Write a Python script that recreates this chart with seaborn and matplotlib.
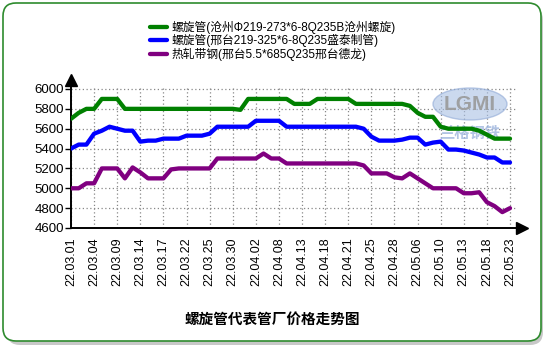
import numpy as np
import pandas as pd
import matplotlib
matplotlib.use("Agg")
import matplotlib.pyplot as plt
import seaborn as sns
from matplotlib.patches import FancyBboxPatch, Ellipse
from matplotlib.transforms import IdentityTransform

# ---------------- data ----------------
tick_labels = ['22.03.01', '22.03.04', '22.03.09', '22.03.14', '22.03.17',
               '22.03.22', '22.03.25', '22.03.30', '22.04.02', '22.04.08',
               '22.04.13', '22.04.18', '22.04.21', '22.04.25', '22.04.28',
               '22.05.06', '22.05.10', '22.05.13', '22.05.18', '22.05.23']

series_names = ['螺旋管(沧州Φ219-273*6-8Q235B沧州螺旋)',
                '螺旋管(邢台219-325*6-8Q235盛泰制管)',
                '热轧带钢(邢台5.5*685Q235邢台德龙)']

green_vals = [5700, 5760, 5800, 5800, 5900, 5900, 5900, 5800,
              5800, 5800, 5800, 5800, 5800, 5800, 5800, 5800, 5800, 5800, 5800, 5800, 5800, 5800,
              5790,
              5900, 5900, 5900, 5900, 5900, 5900,
              5850, 5850, 5850,
              5900, 5900, 5900, 5900, 5900,
              5850, 5850, 5850, 5850, 5850, 5850, 5850,
              5830, 5760, 5720, 5720, 5620,
              5600, 5600, 5600, 5600,
              5580, 5540,
              5500, 5500, 5500]

blue_vals = [5400, 5440, 5440, 5550, 5580, 5620, 5600, 5580, 5580, 5470,
             5480, 5480, 5500, 5500, 5500, 5530, 5530, 5530, 5550, 5620,
             5620, 5620, 5620, 5620, 5680, 5680, 5680, 5680, 5620,
             5620, 5620, 5620, 5620, 5620, 5620, 5620, 5620, 5620,
             5600, 5520, 5480, 5480, 5480, 5490, 5510, 5510, 5440, 5460,
             5470, 5390, 5390, 5380, 5360, 5340, 5310, 5310, 5260, 5260]

purple_vals = [5000, 5000, 5050, 5050, 5200, 5200, 5200, 5100, 5210, 5160,
               5100, 5100, 5100, 5190, 5200, 5200, 5200, 5200, 5200, 5300,
               5300, 5300, 5300, 5300, 5300,
               5350, 5300, 5300,
               5250, 5250, 5250, 5250, 5250, 5250, 5250, 5250, 5250, 5250,
               5230, 5150, 5150, 5150, 5110, 5100, 5150, 5100, 5050, 5000,
               5000, 5000, 5000, 4950, 4950, 4960, 4860, 4820, 4760, 4800]

colors = ['#008000', '#0000ff', '#800080']

idx = np.arange(len(green_vals))
df = pd.concat([
    pd.DataFrame({'idx': idx, 'price': vals, 'series': name})
    for name, vals in zip(series_names, [green_vals, blue_vals, purple_vals])
], ignore_index=True)

# ---------------- style ----------------
sns.set_theme(style='white')
plt.rcParams['font.family'] = ['Liberation Sans', 'Noto Sans CJK SC', 'DejaVu Sans']
plt.rcParams['axes.unicode_minus'] = False

W, H = 550, 350
fig = plt.figure(figsize=(W / 100, H / 100), dpi=100)
fig.patch.set_facecolor('white')

# outer rounded frame with shadow
shadow = FancyBboxPatch((7, H - 345), 536, 338,
                        boxstyle='round,pad=0,rounding_size=13',
                        transform=IdentityTransform(), facecolor='#c8c8c8',
                        edgecolor='none', zorder=-3)
frame = FancyBboxPatch((3, H - 341), 538, 338,
                       boxstyle='round,pad=0,rounding_size=13',
                       transform=IdentityTransform(), facecolor='white',
                       edgecolor='#2e8b2e', linewidth=1.2, zorder=-2)
fig.add_artist(shadow)
fig.add_artist(frame)

# axes
x_left, x_right = 71, 517
y_top, y_bottom = 86, 228
ax = fig.add_axes([x_left / W, 1 - y_bottom / H, (x_right - x_left) / W, (y_bottom - y_top) / H])
ax.set_facecolor('none')

# watermark
ax.add_patch(Ellipse((470, H - 104), 74, 32, transform=IdentityTransform(),
                     facecolor='#a9c0e4', edgecolor='#8fa9d6', alpha=0.6, zorder=1))
ax.text(470, H - 104, 'LGMI', transform=IdentityTransform(), ha='center', va='center',
        fontsize=15, fontweight='bold', color='#9a9a9a', alpha=0.9, zorder=1.2)
ax.text(470, H - 133, '兰格钢铁', transform=IdentityTransform(), ha='center', va='center',
        fontsize=11, fontweight='bold', color='#9fb6de', alpha=0.8, zorder=1.2,
        family=['Noto Sans CJK SC'])

sns.lineplot(data=df, x='idx', y='price', hue='series', palette=colors,
             linewidth=3.1, ax=ax, legend=True, zorder=3)
for ln in ax.lines:
    ln.set_solid_joinstyle('round')
    ln.set_solid_capstyle('round')

ax.set_xlim(0, 57 + (x_right - 510) / 7.7)
ax.set_ylim(4600, 6000 + 3 / 139 * 1400)

ax.set_xticks(idx[::3])
ax.set_xticklabels(tick_labels, rotation=90, fontsize=9)
ax.set_yticks(np.arange(4600, 6001, 200))
ax.set_yticklabels([str(v) for v in range(4600, 6001, 200)], fontsize=9.5)
ax.tick_params(axis='x', length=0, pad=7, colors='black')
ax.tick_params(axis='y', length=4, width=1, direction='out', pad=1, colors='black', left=True)
ax.set_xlabel('')
ax.set_ylabel('')

ax.grid(True, linestyle=(0, (1, 2)), color='#888888', linewidth=0.9)
ax.set_axisbelow(True)

for s in ['top', 'right']:
    ax.spines[s].set_visible(False)
for s in ['left', 'bottom']:
    ax.spines[s].set_color('black')
    ax.spines[s].set_linewidth(1.4)

# axis arrows
ax.plot([0], [1 + 6 / 142], marker='^', color='black', markersize=9,
        transform=ax.transAxes, clip_on=False)
ax.plot([1 + 5 / 446], [0], marker='>', color='black', markersize=9,
        transform=ax.transAxes, clip_on=False)

# legend
handles, labels = ax.get_legend_handles_labels()
leg = ax.legend(handles, labels, loc='upper left',
                bbox_to_anchor=(150 / W, 1 - 21 / H), bbox_transform=fig.transFigure,
                frameon=False, fontsize=8.5, handlelength=1.45, handletextpad=0.4,
                labelspacing=0.02, borderpad=0, borderaxespad=0)
for t in leg.get_texts():
    t.set_color('black')

# title
fig.text(272 / W, 1 - 319 / H, '螺旋管代表管厂价格走势图', ha='center', va='center',
         fontsize=10.5, fontweight='bold', color='black',
         family=['Noto Sans CJK SC', 'DejaVu Sans'])

fig.savefig('out.png', dpi=100)
